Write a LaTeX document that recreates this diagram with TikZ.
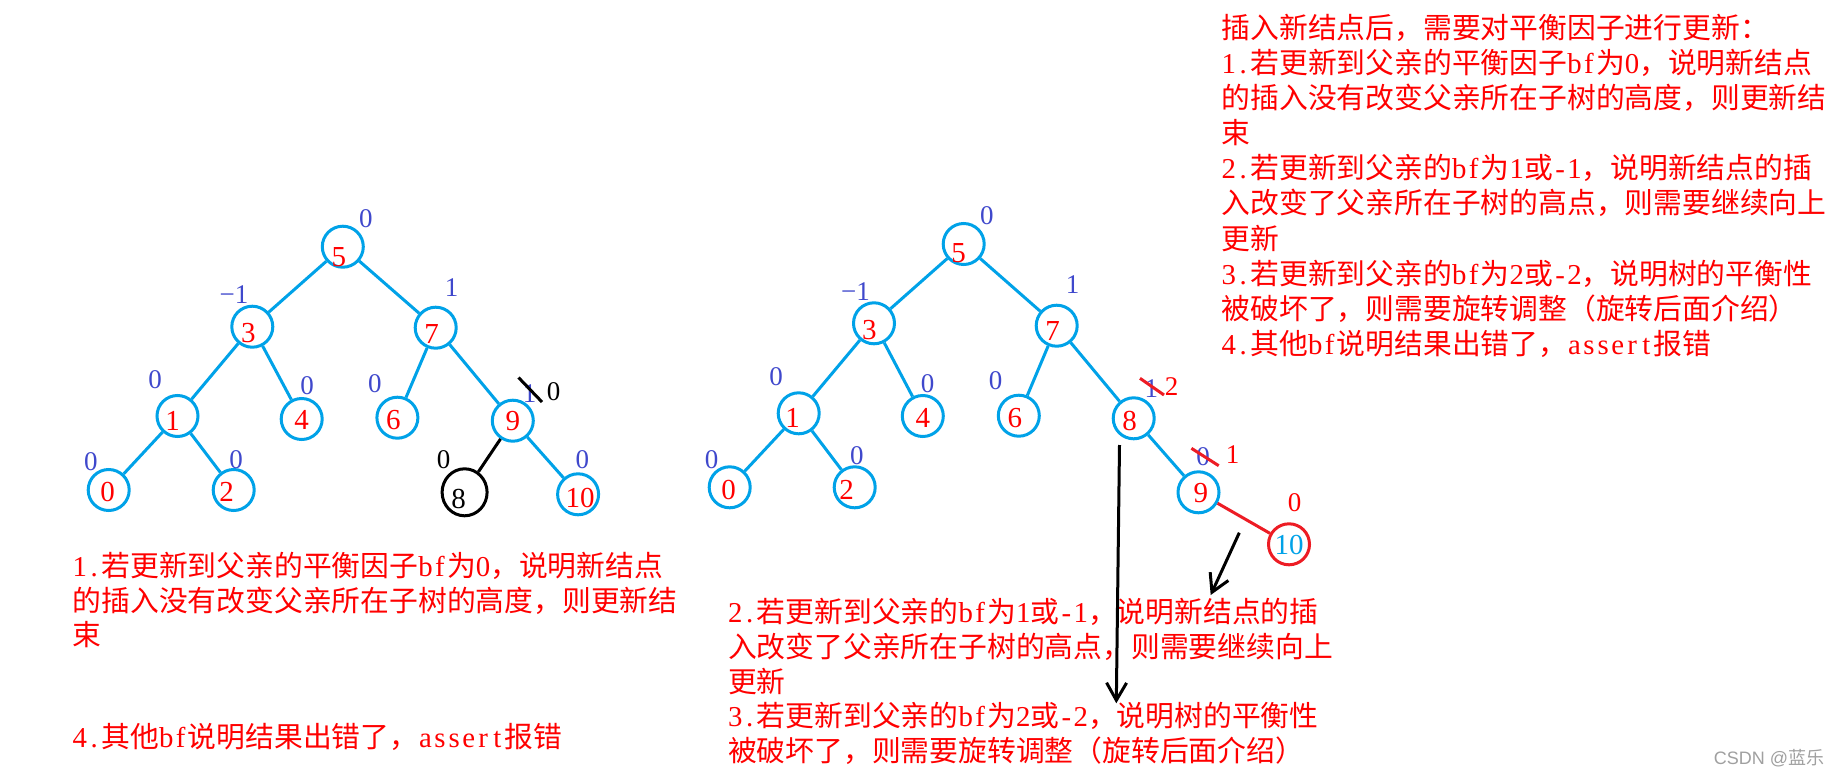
\documentclass[tikz,border=0pt]{standalone}
\usepackage{fontspec}
\setmainfont{Noto Sans CJK SC}
\newfontfamily\digf{Liberation Serif}
\newfontfamily\wmf{Liberation Sans}
\usetikzlibrary{arrows.meta,shapes.geometric}
\definecolor{pblue}{HTML}{00A2E8}
\definecolor{pred}{HTML}{ED1C24}
\definecolor{txred}{HTML}{FF0000}
\definecolor{lbl}{HTML}{3F48CC}
\definecolor{wmgray}{HTML}{A0A0A0}
% node text with offset: #1 = 2*dx, #2 = shift down
\newcommand\ntx[3]{\makebox[0pt]{\hspace*{#1}\raisebox{\dimexpr-0.338em-#2\relax}[0pt][0pt]{#3}}}
% half-width Latin characters, one per cell
\newcommand\lat[1]{\latloop#1\relax}
\newcommand\latloop[1]{\ifx\relax#1\else\makebox[7.2pt][c]{\digf #1}\expandafter\latloop\fi}
\begin{document}
\begin{tikzpicture}[x=0.5pt,y=-0.5pt,
  nd/.style={circle, draw=pblue, line width=1.5pt, minimum size=20.5pt, inner sep=0pt,
    text=txred, font=\digf\fontsize{14.5}{17}\selectfont},
  ed/.style={draw=pblue, line width=1.5pt},
  bfl/.style={text=lbl, inner sep=0pt, font=\digf\fontsize{13.5}{16}\selectfont},
  ln/.style={anchor=west, inner sep=0pt, text=txred, text height=12.67pt, text depth=1.73pt,
    font=\fontsize{14.4}{17.5}\selectfont},
  slash/.style={line width=1.5pt},
  arr/.style={line width=1.5pt, -{Straight Barb[length=8.75pt,width=10pt]}}]
\useasboundingbox[fill=white] (0,0) rectangle (1842,776);

% ---------------- Tree 1 ----------------
\node[nd] (a5) at (342.8,246.7) {\ntx{-4pt}{4.75pt}{5}};
\node[nd] (a3) at (252.3,326.7) {\ntx{-4pt}{3pt}{3}};
\node[nd] (a7) at (435.7,327.7) {\ntx{-4pt}{3.2pt}{7}};
\node[nd] (a1) at (177.5,416) {\ntx{-5pt}{2.3pt}{1}};
\node[nd] (a4) at (301.7,419) {\ntx{0pt}{0.5pt}{4}};
\node[nd] (a6) at (397.4,417.7) {\ntx{-4pt}{0.8pt}{6}};
\node[nd] (a9) at (512.8,420.7) {\ntx{0pt}{0pt}{9}};
\node[nd] (a0) at (108.7,490) {\ntx{-1pt}{1pt}{0}};
\node[nd] (a2) at (233.7,490) {\ntx{-7pt}{0.8pt}{2}};
\node[ellipse, draw=black, line width=1.5pt, minimum width=22.5pt, minimum height=23.5pt,
  inner sep=0pt, font=\digf\fontsize{14.5}{17}\selectfont] (a8) at (464.6,492.3) {\ntx{-6pt}{3.3pt}{8}};
\node[nd] (a10) at (578.1,494.3) {\ntx{2pt}{1.7pt}{10}};

\draw[ed] (a5) -- (a3);
\draw[ed] (a5) -- (a7);
\draw[ed] (a3) -- (a1);
\draw[ed] (a3) -- (a4);
\draw[ed] (a7) -- (a6);
\draw[ed] (a7) -- (a9);
\draw[ed] (a1) -- (a0);
\draw[ed] (a1) -- (a2);
\draw[ed] (a9) -- (a10);
\draw[line width=1.5pt] (a9) -- (a8);

\node[bfl] (la5) at (365.8,218.3) {0};
\node[bfl] (la3) at (234.1,295) {−1};
\node[bfl] (la7) at (451.6,287.3) {1};
\node[bfl] (la1) at (155,379.3) {0};
\node[bfl] (la4) at (307.2,386) {0};
\node[bfl] (la6) at (374.8,384) {0};
\node[bfl] (la9) at (529.5,393.3) {1};
\node[bfl,text=black] (la9n) at (553.5,391.7) {0};
\node[bfl] (la0) at (90.9,461.7) {0};
\node[bfl] (la2) at (236,459.3) {0};
\node[bfl,text=black] (la8) at (443.7,459.3) {0};
\node[bfl] (la10) at (582.4,459.3) {0};
\draw[slash] (518.5,377.5) -- (542,402);

% ---------------- Tree 2 ----------------
\node[nd] (b5) at (963.7,244) {\ntx{-5pt}{4.3pt}{5}};
\node[nd] (b3) at (874,323.3) {\ntx{-4.6pt}{3.3pt}{3}};
\node[nd] (b7) at (1056.7,325.7) {\ntx{-4.2pt}{2.5pt}{7}};
\node[nd] (b1) at (798.7,413.3) {\ntx{-6pt}{2pt}{1}};
\node[nd] (b4) at (922.8,416) {\ntx{0pt}{0.7pt}{4}};
\node[nd] (b6) at (1018.8,415.7) {\ntx{-4pt}{0.8pt}{6}};
\node[nd] (b8) at (1133.7,418.3) {\ntx{-4pt}{1.2pt}{8}};
\node[nd] (b0) at (729.7,487.3) {\ntx{-1pt}{1pt}{0}};
\node[nd] (b2) at (854.7,487.3) {\ntx{-8pt}{1pt}{2}};
\node[nd] (b9) at (1198.5,492.3) {\ntx{2.4pt}{0pt}{9}};
\node[nd, draw=pred, text=pblue] (b10) at (1289,544.3) {\ntx{0pt}{0.3pt}{10}};

\draw[ed] (b5) -- (b3);
\draw[ed] (b5) -- (b7);
\draw[ed] (b3) -- (b1);
\draw[ed] (b3) -- (b4);
\draw[ed] (b7) -- (b6);
\draw[ed] (b7) -- (b8);
\draw[ed] (b1) -- (b0);
\draw[ed] (b1) -- (b2);
\draw[ed] (b8) -- (b9);
\draw[draw=pred, line width=1.5pt] (b9) -- (b10);

\node[bfl] (lb5) at (986.8,216) {0};
\node[bfl] (lb3) at (855.5,291.7) {−1};
\node[bfl] (lb7) at (1072.7,284.3) {1};
\node[bfl] (lb1) at (776,376.7) {0};
\node[bfl] (lb4) at (927.5,383.3) {0};
\node[bfl] (lb6) at (995.7,381) {0};
\node[bfl] (lb8) at (1151.4,388.3) {1};
\node[bfl,text=txred] (lb8n) at (1171.6,386.7) {2};
\node[bfl] (lb0) at (711.6,459.3) {0};
\node[bfl] (lb2) at (856.8,456) {0};
\node[bfl] (lb9) at (1203.2,456.7) {0};
\node[bfl,text=txred] (lb9n) at (1232.6,455) {1};
\node[bfl,text=txred] (lb10) at (1294.5,502.7) {0};
\draw[slash, draw=pred] (1140,378.3) -- (1164,395);
\draw[slash, draw=pred] (1191.4,448.3) -- (1218.7,465.7);

% ---------------- Text blocks ----------------
\node[ln] (r1) at (1221.3,27.5) {插入新结点后，需要对平衡因子进行更新：};
\node[ln] (r2) at (1221.3,62.6) {\lat{1.}若更新到父亲的平衡因子\lat{bf}为\lat{0}，说明新结点};
\node[ln] (r3) at (1221.3,97.7) {的插入没有改变父亲所在子树的高度，则更新结};
\node[ln] (r4) at (1221.3,132.8) {束};
\node[ln] (r5) at (1221.3,167.9) {\lat{2.}若更新到父亲的\lat{bf}为\lat{1}或\lat{-1}，说明新结点的插};
\node[ln] (r6) at (1221.3,203) {入改变了父亲所在子树的高点，则需要继续向上};
\node[ln] (r7) at (1221.3,238.1) {更新};
\node[ln] (r8) at (1221.3,273.2) {\lat{3.}若更新到父亲的\lat{bf}为\lat{2}或\lat{-2}，说明树的平衡性};
\node[ln] (r9) at (1221.3,308.3) {被破坏了，则需要旋转调整（旋转后面介绍）};
\node[ln] (r10) at (1221.3,343.4) {\lat{4.}其他\lat{bf}说明结果出错了，\lat{assert}报错};

\node[ln] (l1) at (72.3,565.8) {\lat{1.}若更新到父亲的平衡因子\lat{bf}为\lat{0}，说明新结点};
\node[ln] (l2) at (72.3,600.3) {的插入没有改变父亲所在子树的高度，则更新结};
\node[ln] (l3) at (72.3,634.8) {束};
\node[ln] (l4) at (72.3,736.7) {\lat{4.}其他\lat{bf}说明结果出错了，\lat{assert}报错};

\node[ln] (m1) at (727.7,612) {\lat{2.}若更新到父亲的\lat{bf}为\lat{1}或\lat{-1}，说明新结点的插};
\node[ln] (m2) at (727.7,646.6) {入改变了父亲所在子树的高点，则需要继续向上};
\node[ln] (m3) at (727.7,681.2) {更新};
\node[ln] (m4) at (727.7,715.8) {\lat{3.}若更新到父亲的\lat{bf}为\lat{2}或\lat{-2}，说明树的平衡性};
\node[ln] (m5) at (727.7,750.4) {被破坏了，则需要旋转调整（旋转后面介绍）};

% ---------------- Arrows ----------------
\coordinate (v1) at (1119.5,445);
\coordinate (v2) at (1116.3,703.3);
\draw[arr] (v1) -- (v2);
\coordinate (w1) at (1239.3,532.7);
\coordinate (w2) at (1210.7,595);
\draw[arr] (w1) -- (w2);

% watermark
\node[inner sep=0pt, text=wmgray, font=\fontsize{9}{11}\selectfont] (wm) at (1769,758.3) {{\wmf CSDN @}蓝乐};
\end{tikzpicture}
\end{document}
